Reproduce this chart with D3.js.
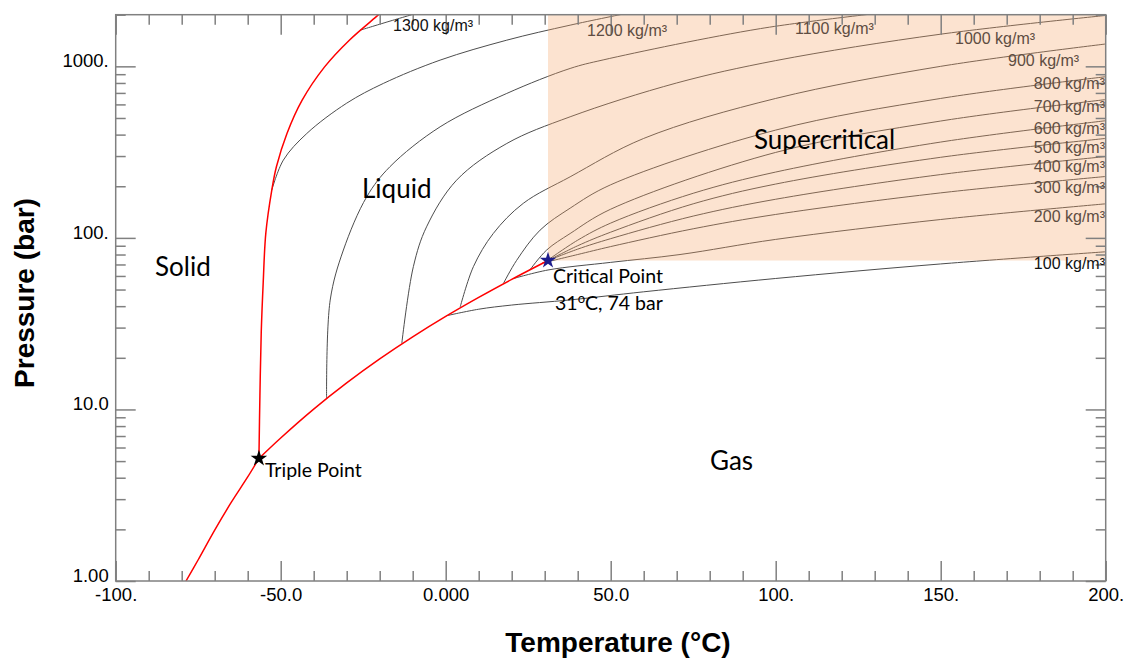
<!DOCTYPE html>
<html>
<head>
<meta charset="utf-8">
<script src="https://cdn.jsdelivr.net/npm/d3@7"></script>
<style>
  html, body { margin: 0; padding: 0; background: #fff; }
  svg { display: block; }
</style>
</head>
<body>
<svg id="chart" width="1125" height="660"></svg>
<script>
// ---- Axis ticks -------------------------------------------------------
const tempTicks = [-100, -50, 0, 50, 100, 150, 200];
const tempTickLabels = ["-100.", "-50.0", "0.000", "50.0", "100.", "150.", "200."];
const pressureTicks = [1, 10, 100, 1000];
const pressureTickLabels = ["1.00", "10.0", "100.", "1000."];

// ---- Phase boundaries of CO2 (T in °C, P in bar) ----------------------
const sublimationCurve = [[-78.7, 1.0], [-75, 1.33], [-70, 1.98], [-65, 2.87], [-60, 4.04], [-56.6, 5.18]];
const meltingCurve = [[-56.6, 5.18], [-56.3, 12], [-55.9, 28], [-55.3, 55], [-54.5, 107], [-52.7, 190],
  [-51.3, 260], [-48.1, 406], [-43.5, 635], [-36.7, 993], [-29.2, 1421], [-20.5, 1988], [-19.0, 2112]];
const vaporCurve = [[-56.6, 5.18], [-50, 6.82], [-40, 10.05], [-30, 14.28], [-20, 19.7], [-10, 26.49],
  [0, 34.85], [10, 45.0], [20, 57.29], [31, 73.8]];

const triplePoint = [-56.6, 5.18];
const criticalPoint = [31, 73.8];

// ---- Isochores (kg/m³) ------------------------------------------------
const iso100 = [[0.3, 35.2], [10, 38.4], [20, 40.6], [37.7, 43.5], [60, 48.5], [100, 58], [150, 70.5], [200, 83]];
const iso200 = [[20.6, 58], [31, 65], [50, 72], [71, 80], [100, 98], [150, 128], [200, 158]];
const iso300 = [[29.2, 71.3], [40, 80], [50, 89], [75, 113], [100, 137], [150, 183], [200, 228]];
const iso400 = [[31, 73.8], [40, 86], [50, 99], [75, 134], [100, 168], [150, 234], [200, 298]];
const iso500 = [[31, 73.8], [40, 90], [50, 108], [75, 158], [100, 206], [150, 295], [200, 380]];
const iso600 = [[30.2, 72.5], [40, 97], [50, 122], [75, 182], [100, 242], [150, 362], [200, 482]];
const iso700 = [[25.5, 65], [30.6, 85], [37.7, 106], [50, 147], [100, 315], [150, 480], [200, 640]];
const iso800 = [[17.5, 54.3], [21.5, 74], [28.6, 111], [37.7, 149], [50, 204], [100, 425], [150, 650], [200, 870]];
const iso900 = [[4.4, 39.6], [8.4, 68], [14.4, 106], [23.5, 159], [37.7, 227], [60, 380], [100, 650], [150, 1000], [200, 1350]];
const iso1000 = [[-13.3, 24.3], [-9.8, 68], [-5.8, 116], [3.3, 217], [18.5, 355], [37.7, 508], [70, 800], [100, 1080], [150, 1540], [200, 1980]];
const iso1100 = [[-36.1, 11.6], [-35, 43.4], [-31, 85], [-23.9, 174], [-16.9, 260], [-1.7, 444], [18.5, 695], [37.7, 972], [47.7, 1090], [95.4, 1660], [135, 2080]];
const iso1200 = [[-52.7, 190], [-49.2, 284], [-42.1, 406], [-30, 610], [-18.9, 795], [-1.7, 1087], [18.5, 1421], [37.7, 1738], [55, 2040]];
const iso1300 = [[-25.9, 1625], [-17.5, 1820], [-8, 2060]];

const densities = [100, 200, 300, 400, 500, 600, 700, 800, 900, 1000, 1100, 1200, 1300];
const isochores = [iso100, iso200, iso300, iso400, iso500, iso600, iso700, iso800, iso900, iso1000, iso1100, iso1200, iso1300]
  .map((pts, i) => ({ rho: densities[i], pts }));

const regionNames = ["Solid", "Liquid", "Supercritical", "Gas"];

// ---- Layout -----------------------------------------------------------
const plot = { left: 115.7, right: 1105.7, top: 14.7, bottom: 581 };

const svg = d3.select("#chart");
const x = d3.scaleLinear().domain([-100, 200]).range([plot.left, plot.right]);
const y = d3.scaleLog().domain([1, 2000]).range([plot.bottom, plot.top]);

svg.append("defs").append("clipPath").attr("id", "plot-clip")
  .append("rect")
  .attr("x", plot.left).attr("y", plot.top)
  .attr("width", plot.right - plot.left).attr("height", plot.bottom - plot.top);

const line = d3.line()
  .x(d => x(d[0]))
  .y(d => y(d[1]))
  .curve(d3.curveCatmullRom.alpha(0.5));

const marks = svg.append("g").attr("clip-path", "url(#plot-clip)");

// isochores
marks.append("g").selectAll("path")
  .data(isochores)
  .join("path")
  .attr("d", d => line(d.pts))
  .attr("fill", "none")
  .attr("stroke", "#4d4d4d")
  .attr("stroke-width", 1);

// supercritical region, tinted over the isochores
marks.append("rect")
  .attr("x", x(criticalPoint[0]))
  .attr("y", y(2000))
  .attr("width", x(200) - x(criticalPoint[0]))
  .attr("height", y(criticalPoint[1]) - y(2000))
  .attr("fill", "rgb(245,162,98)")
  .attr("fill-opacity", 0.3);

// phase boundaries
marks.append("g").selectAll("path")
  .data([sublimationCurve, meltingCurve, vaporCurve])
  .join("path")
  .attr("d", d => line(d))
  .attr("fill", "none")
  .attr("stroke", "#ff0000")
  .attr("stroke-width", 1.5);

// ---- Axes (ticks point inward on all four sides) -------------------------
const tickColor = "#808080";
const tickFont = "'Liberation Sans', Arial, sans-serif";
const tempMinor = d3.range(-90, 200, 10).filter(v => v % 50 !== 0);
const pressureMinor = [];
pressureTicks.forEach(d => { for (let k = 2; k <= 9; k++) if (d * k <= 2000) pressureMinor.push(d * k); });

function styleAxis(g) {
  g.select(".domain").remove();
  g.selectAll("line").attr("stroke", tickColor).attr("stroke-width", 1.5);
  g.selectAll("text")
    .attr("fill", "#000")
    .style("font-family", tickFont)
    .style("font-size", "18.5px");
}

// bottom
svg.append("g").attr("transform", `translate(0,${plot.bottom})`)
  .call(d3.axisBottom(x).tickValues(tempMinor).tickSize(-10).tickFormat("")).call(styleAxis);
const bottomMajor = svg.append("g").attr("transform", `translate(0,${plot.bottom})`)
  .call(d3.axisBottom(x).tickValues(tempTicks).tickSize(-20).tickPadding(0)
    .tickFormat((d, i) => tempTickLabels[i])).call(styleAxis);
bottomMajor.selectAll("text").attr("y", 20).attr("dy", "0");
// top
svg.append("g").attr("transform", `translate(0,${plot.top})`)
  .call(d3.axisTop(x).tickValues(tempMinor).tickSize(-10).tickFormat("")).call(styleAxis);
svg.append("g").attr("transform", `translate(0,${plot.top})`)
  .call(d3.axisTop(x).tickValues(tempTicks).tickSize(-20).tickFormat("")).call(styleAxis);
// left
svg.append("g").attr("transform", `translate(${plot.left},0)`)
  .call(d3.axisLeft(y).tickValues(pressureMinor).tickSize(-10).tickFormat("")).call(styleAxis);
const leftMajor = svg.append("g").attr("transform", `translate(${plot.left},0)`)
  .call(d3.axisLeft(y).tickValues(pressureTicks).tickSize(-20).tickPadding(7)
    .tickFormat((d, i) => pressureTickLabels[i])).call(styleAxis);
leftMajor.selectAll("text").attr("dy", "0.5");
// right
svg.append("g").attr("transform", `translate(${plot.right},0)`)
  .call(d3.axisRight(y).tickValues(pressureMinor).tickSize(-10).tickFormat("")).call(styleAxis);
svg.append("g").attr("transform", `translate(${plot.right},0)`)
  .call(d3.axisRight(y).tickValues(pressureTicks).tickSize(-20).tickFormat("")).call(styleAxis);

// frame
svg.append("rect")
  .attr("x", plot.left).attr("y", plot.top)
  .attr("width", plot.right - plot.left).attr("height", plot.bottom - plot.top)
  .attr("fill", "none").attr("stroke", tickColor).attr("stroke-width", 1.5);

// ---- Axis titles ------------------------------------------------------
svg.append("text")
  .attr("x", 618).attr("y", 652)
  .attr("text-anchor", "middle")
  .style("font-family", tickFont)
  .style("font-size", "28px").style("font-weight", "bold")
  .text("Temperature (°C)");
svg.append("text")
  .attr("transform", "translate(34,293) rotate(-90)")
  .attr("text-anchor", "middle")
  .style("font-family", tickFont)
  .style("font-size", "28px").style("font-weight", "bold")
  .text("Pressure (bar)");

// ---- Isochore labels --------------------------------------------------
const isoLabelPos = {
  1300: [393, 31, "start"], 1200: [587, 36, "start"], 1100: [795, 34, "start"],
  1000: [955, 44, "start"], 900: [1008, 66, "start"], 800: [1105, 89, "end"],
  700: [1105, 112, "end"], 600: [1105, 134, "end"], 500: [1105, 153, "end"],
  400: [1105, 172, "end"], 300: [1105, 193, "end"], 200: [1105, 222, "end"],
  100: [1105, 269, "end"]
};
svg.append("g").selectAll("text")
  .data(isochores)
  .join("text")
  .attr("x", d => isoLabelPos[d.rho][0])
  .attr("y", d => isoLabelPos[d.rho][1])
  .attr("text-anchor", d => isoLabelPos[d.rho][2])
  .attr("fill", d => (d.rho === 100 || d.rho === 1300) ? "#111" : "#5e4d42")
  .style("font-family", tickFont)
  .style("font-size", "16px")
  .text(d => `${d.rho} kg/m³`);

// ---- Region names -----------------------------------------------------
const labelFont = "Lato, 'Open Sans', sans-serif";
const regionPos = [[155, 276], [362, 198], [754, 149], [710, 470]];
svg.append("g").selectAll("text")
  .data(regionNames)
  .join("text")
  .attr("x", (d, i) => regionPos[i][0])
  .attr("y", (d, i) => regionPos[i][1])
  .attr("fill", "#000")
  .style("font-family", labelFont)
  .style("font-size", "26px")
  .text(d => d);

// ---- Triple and critical points -----------------------------------------
const star = d3.symbol().type(d3.symbolStar).size(85);
svg.append("path")
  .attr("d", star())
  .attr("transform", `translate(${x(triplePoint[0])},${y(triplePoint[1])})`)
  .attr("fill", "#000");
svg.append("path")
  .attr("d", star())
  .attr("transform", `translate(${x(criticalPoint[0])},${y(criticalPoint[1])})`)
  .attr("fill", "#1c1c8c");

svg.append("text")
  .attr("x", 265).attr("y", 477)
  .style("font-family", labelFont).style("font-size", "19.5px")
  .text("Triple Point");
svg.append("text")
  .attr("x", 553).attr("y", 283)
  .style("font-family", labelFont).style("font-size", "19.5px")
  .text("Critical Point");
const cpText = svg.append("text")
  .attr("x", 555).attr("y", 310)
  .style("font-family", labelFont).style("font-size", "19.5px");
cpText.append("tspan").text(`${criticalPoint[0]}`);
cpText.append("tspan").attr("dy", "-7").style("font-size", "13px").text("o");
cpText.append("tspan").attr("dy", "7").text(`C, ${Math.round(criticalPoint[1])} bar`);
</script>
</body>
</html>
